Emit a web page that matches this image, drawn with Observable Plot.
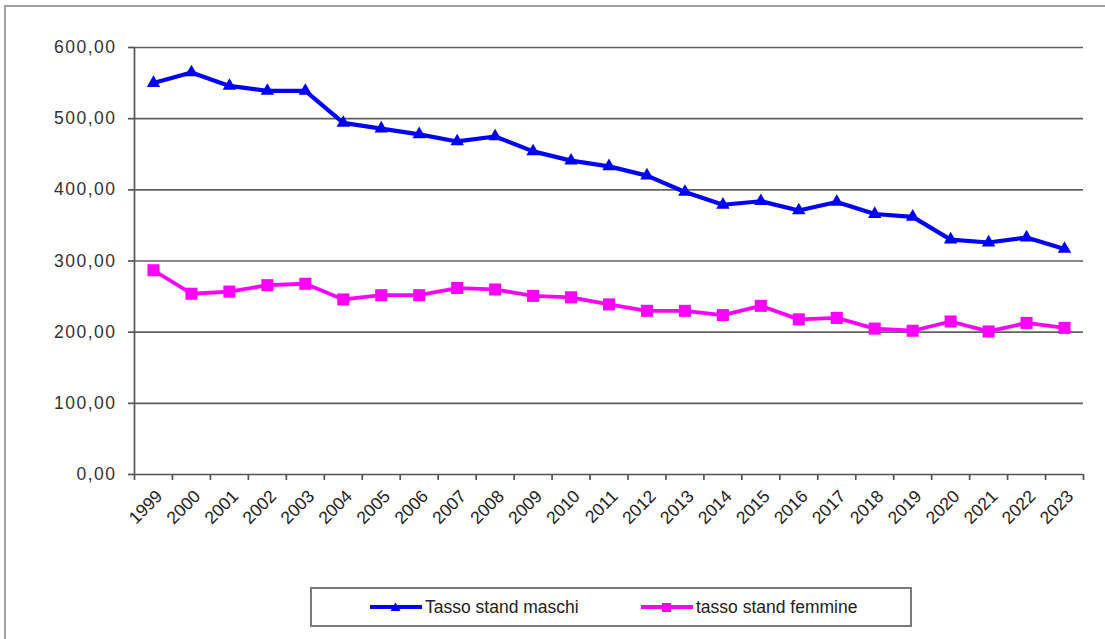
<!DOCTYPE html>
<html>
<head>
<meta charset="utf-8">
<script src="https://cdn.jsdelivr.net/npm/d3@7"></script>
<script src="https://cdn.jsdelivr.net/npm/@observablehq/plot@0.6"></script>
<style>
  html, body { margin: 0; padding: 0; background: #fff; overflow: hidden; }
  body { width: 1105px; height: 639px; position: relative; font-family: "Liberation Sans", Arial, sans-serif; }
  #frame { position: absolute; left: 4px; top: 5px; width: 1200px; height: 700px; border: 2px solid #a0a0a0; border-right: none; border-bottom: none; }
  #chart { position: absolute; left: 0; top: 0; }
  #legend { position: absolute; left: 310px; top: 587px; width: 598px; height: 36px; border: 2px solid #7a7a7a; box-sizing: content-box; }
  .item { position: absolute; top: 0; height: 36px; display: flex; align-items: center; font-size: 17.5px; color: #222; }
  .item svg { margin-right: 3px; }
</style>
</head>
<body>
<div id="frame"></div>
<div id="chart"></div>
<div id="legend"></div>
<script>
const years = [1999, 2000, 2001, 2002, 2003, 2004, 2005, 2006, 2007, 2008, 2009, 2010, 2011, 2012, 2013, 2014, 2015, 2016, 2017, 2018, 2019, 2020, 2021, 2022, 2023];
const maschi = [550, 565, 546, 539, 539, 494, 486, 478, 468, 475, 454, 441, 433, 420, 397, 379, 384, 371, 383, 366, 362, 330, 326, 333, 317];
const femmine = [287, 254, 257, 266, 268, 246, 252, 252, 262, 260, 251, 249, 239, 230, 230, 224, 237, 218, 220, 205, 202, 215, 201, 213, 206];
const seriesNames = ["Tasso stand maschi", "tasso stand femmine"];
const seriesColors = ["#0000ff", "#ff00ff"];
const yTicks = [0, 100, 200, 300, 400, 500, 600];

const dataM = years.map((y, i) => ({year: y, value: maschi[i]}));
const dataF = years.map((y, i) => ({year: y, value: femmine[i]}));
const boundaries = [years[0] - 0.5, ...years.map(y => y + 0.5)];
const fmt = v => v.toFixed(2).replace(".", ",");

const chart = Plot.plot({
  width: 1105,
  height: 560,
  marginLeft: 134,
  marginRight: 22,
  marginTop: 47,
  marginBottom: 86,
  style: {fontFamily: "Liberation Sans, Arial, sans-serif", background: "transparent", color: "#222"},
  x: {type: "linear", domain: [years[0] - 0.5, years[years.length - 1] + 0.5]},
  y: {domain: [0, 600]},
  marks: [
    Plot.ruleY(yTicks.slice(1), {stroke: "#606060", strokeWidth: 1.7}),
    Plot.ruleY([0], {stroke: "#555", strokeWidth: 1.7}),
    Plot.ruleX([boundaries[0]], {y1: 0, y2: 600, stroke: "#555", strokeWidth: 1.7}),
    Plot.axisY({ticks: yTicks, tickFormat: fmt, tickSize: 6, tickPadding: 12, fontSize: 17.5, stroke: "#555", strokeWidth: 1.7, label: null, color: "#333"}),
    Plot.axisX({ticks: boundaries, tickFormat: () => "", tickSize: 6, stroke: "#555", strokeWidth: 1.7, label: null}),
    Plot.text(years, {x: d => d, text: d => String(d), frameAnchor: "bottom", rotate: -45, textAnchor: "end", lineAnchor: "middle", dx: 6, dy: 19, fontSize: 17.5, fill: "#222"}),
    Plot.line(dataM, {x: "year", y: "value", stroke: seriesColors[0], strokeWidth: 4.2}),
    Plot.dot(dataM, {x: "year", y: "value", symbol: "triangle", r: 5, fill: seriesColors[0], stroke: "none"}),
    Plot.line(dataF, {x: "year", y: "value", stroke: seriesColors[1], strokeWidth: 3.8}),
    Plot.dot(dataF, {x: "year", y: "value", symbol: "square", r: 6.8, fill: seriesColors[1], stroke: "none"})
  ]
});
d3.select(chart).selectAll("g[aria-label='y-axis tick label'] text").attr("letter-spacing", "1.5px");
document.getElementById("chart").appendChild(chart);

const legend = document.getElementById("legend");
const lx = [58, 329];
seriesNames.forEach((name, i) => {
  const item = document.createElement("div");
  item.className = "item";
  item.style.left = lx[i] + "px";
  const sym = i === 0
    ? `<path d="M25.5,2.5 L30.5,11 L20.5,11 Z" fill="${seriesColors[i]}"/>`
    : `<rect x="21" y="3" width="9" height="9" fill="${seriesColors[i]}"/>`;
  item.innerHTML = `<svg width="52" height="14"><line x1="0" y1="7" x2="52" y2="7" stroke="${seriesColors[i]}" stroke-width="4"/>${sym}</svg><span>${name}</span>`;
  legend.appendChild(item);
});
</script>
</body>
</html>
